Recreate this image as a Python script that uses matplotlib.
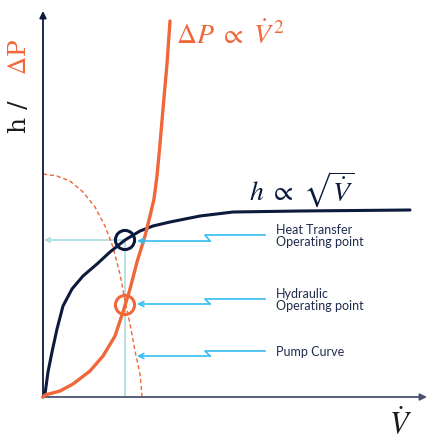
import numpy as np
import matplotlib.pyplot as plt

plt.rcParams['mathtext.fontset'] = 'stix'

# values (x = flow, y = h or dP, arbitrary units)
dp_x = [0, 2, 17, 30, 47, 60, 72, 80, 87, 94, 102, 107, 111, 114, 117, 120, 124, 127]
dp_y = [0, 2, 6, 13, 26, 41, 61, 85, 108, 135, 161, 181, 198, 221, 253, 288, 333, 376]

h_x = [0, 2, 5, 9, 14, 20, 29, 40, 54, 67, 82, 97, 110, 127, 157, 190, 257, 367]
h_y = [0, 3, 25, 45, 68, 91, 108, 121, 133, 145, 157, 166, 171, 175, 181, 185, 186, 187]

pump_x = [0, 14, 27, 40, 52, 62, 70, 77, 82, 87, 92, 97, 99]
pump_y = [223, 221, 216, 205, 190, 171, 150, 123, 96, 73, 46, 23, 1]

op_h = (82, 157)      # heat transfer operating point
op_dp = (82, 92)      # hydraulic operating point

navy = '#0b1a3d'
orange = '#f0673a'
cyan = '#35bdf0'
teal = '#a6dde0'
txt = '#1f2b4d'

fig = plt.figure(figsize=(4.28, 4.39), dpi=100)
ax = fig.add_axes([0, 0, 1, 1])
ax.set_xlim(-43, 385)
ax.set_ylim(-41, 398)
ax.axis('off')

# axes arrows
ax.annotate('', xy=(0, 386), xytext=(0, 0),
            arrowprops=dict(arrowstyle='-|>', color=navy, lw=1.3, mutation_scale=10, shrinkA=0, shrinkB=0))
ax.annotate('', xy=(384, 0), xytext=(0, 0),
            arrowprops=dict(arrowstyle='-|>', color='#4a5270', lw=1.3, mutation_scale=10, shrinkA=0, shrinkB=0))

# guide lines from operating point
ax.plot([op_h[0], op_h[0]], [0, op_h[1]], color=teal, lw=1.2, zorder=1)
ax.annotate('', xy=(1, op_h[1]), xytext=(op_h[0], op_h[1]),
            arrowprops=dict(arrowstyle='->', color=teal, lw=1.2, mutation_scale=8, shrinkA=0, shrinkB=0), zorder=1)

# curves
ax.plot(pump_x, pump_y, color=orange, lw=1, ls=(0, (3, 2)), zorder=2)
ax.plot(h_x, h_y, color=navy, lw=2.2, zorder=3, solid_capstyle='round', solid_joinstyle='round')
ax.plot(dp_x, dp_y, color=orange, lw=2.4, zorder=3, solid_capstyle='round', solid_joinstyle='round')

# operating point circles
ax.scatter([op_h[0]], [op_h[1]], s=190, facecolors='none', edgecolors=navy, linewidths=2.2, zorder=4)
ax.scatter([op_dp[0]], [op_dp[1]], s=190, facecolors='none', edgecolors=orange, linewidths=2.2, zorder=4)

# callouts with break symbol
callouts = [
    (162, 156, ['Heat Transfer', 'Operating point']),
    (98, 93, ['Hydraulic', 'Operating point']),
    (46, 41, ['Pump Curve']),
]
for y_up, y_lo, lines in callouts:
    ax.plot([222, 162, 167], [y_up, y_up, y_lo], color=cyan, lw=1.2)
    ax.annotate('', xy=(94, y_lo), xytext=(167, y_lo),
                arrowprops=dict(arrowstyle='->', color=cyan, lw=1.2, mutation_scale=9, shrinkA=0, shrinkB=0))
    ax.text(233, y_up, '\n'.join(lines), color=txt, fontsize=9, family='Lato',
            ha='left', va='center', linespacing=0.95)

# labels
ax.text(-23, 281, 'h /', rotation=90, fontsize=18, family='DejaVu Serif', color='#1a1a1a',
        ha='center', va='center')
ax.text(-23, 341, r'$\Delta$P', rotation=90, fontsize=18, family='DejaVu Serif', color=orange,
        ha='center', va='center')
ax.text(133, 362, r'$\Delta P\ \propto\ \dot{V}^{\,2}$', fontsize=20, color=orange, ha='left', va='center')
ax.text(259, 208, r'$h\ \propto\ \sqrt{\dot{V}}$', fontsize=20, color=navy, ha='center', va='center')
ax.text(357, -26, r'$\dot{V}$', fontsize=22, color='#1a1a1a', ha='center', va='center')

fig.savefig('out.png', dpi=100)
